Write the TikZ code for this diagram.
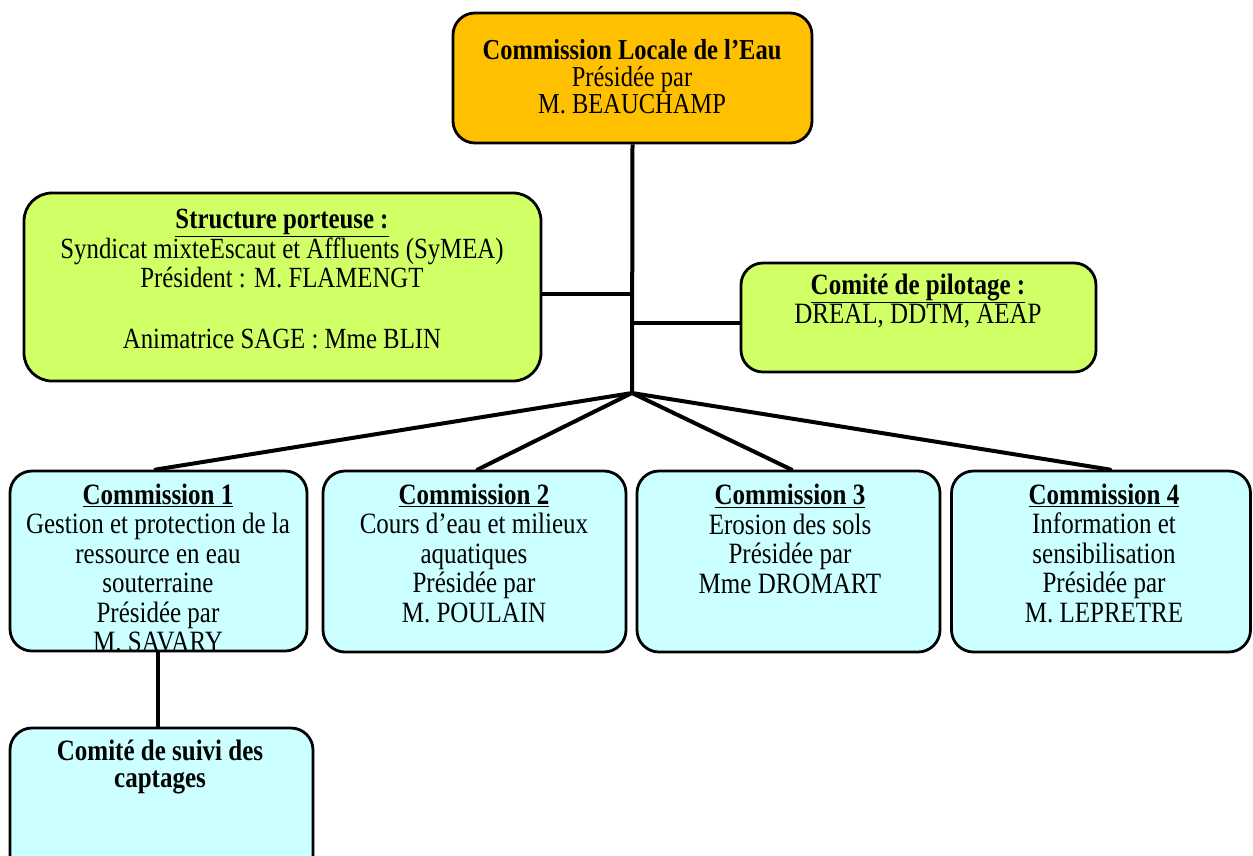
\documentclass[tikz,border=0pt]{standalone}
\usepackage{fontspec}
\usepackage{graphicx}
\setmainfont{Liberation Serif}
\newcommand\ys[1]{\scalebox{1}[1.18]{#1}}
\newcommand\ubf[1]{\underline{\textbf{#1}}}
\definecolor{cleorange}{HTML}{FFC000}
\definecolor{boxgreen}{HTML}{D0FF66}
\definecolor{boxblue}{HTML}{CCFFFF}
\tikzset{
  box/.style={draw=black, line width=2.8pt, rounded corners=22pt, inner sep=0pt},
  txt/.style={align=center, inner sep=0pt, text=black},
  link/.style={draw=black, line width=4pt},
}
\begin{document}
\begin{tikzpicture}[x=1pt, y=-1pt]
\useasboundingbox (0,0) rectangle (1253,855);
\clip (0,0) rectangle (1253,855);
% boxes
\node[box, fill=cleorange, minimum width=359pt, minimum height=130pt] (cle) at (632.5,78) {};
\node[box, fill=boxgreen, rounded corners=28pt, minimum width=517pt, minimum height=188pt] (struct) at (282.5,287) {};
\node[box, fill=boxgreen, minimum width=355pt, minimum height=109pt] (pilot) at (918.5,317.5) {};
\node[box, fill=boxblue, minimum width=297pt, minimum height=180pt] (c1) at (158.5,561) {};
\node[box, fill=boxblue, minimum width=303pt, minimum height=181pt] (c2) at (474.5,561.5) {};
\node[box, fill=boxblue, minimum width=303pt, minimum height=181pt] (c3) at (788.5,561.5) {};
\node[box, fill=boxblue, minimum width=299pt, minimum height=181pt] (c4) at (1101,561.5) {};
\node[box, fill=boxblue, minimum width=303pt, minimum height=160pt] (suivi) at (161.5,808) {};
% texts
\node[txt, font=\fontsize{24.5}{27}\selectfont] (tcle) at (632,77)
  {\ys{\textbf{Commission Locale de l’Eau}}\\ \ys{Présidée par}\\ \ys{M. BEAUCHAMP}};
\node[txt, font=\fontsize{24.8}{29.5}\selectfont] (tstruct) at (282,279)
  {\ys{\ubf{Structure porteuse :}}\\ \ys{Syndicat mixteEscaut et Affluents (SyMEA)}\\ \ys{Président : M. FLAMENGT}\\[31pt] \ys{Animatrice SAGE : Mme BLIN}};
\node[txt, font=\fontsize{25}{26}\selectfont] (tpilot) at (918,301)
  {\ys{\ubf{Comité de pilotage :}}\\ \ys{DREAL, DDTM, AEAP}};
\node[txt, font=\fontsize{25}{29.5}\selectfont] (tc1) at (158,568)
  {\ys{\ubf{Commission 1}}\\ \ys{Gestion et protection de la}\\ \ys{ressource en eau}\\ \ys{souterraine}\\ \ys{Présidée par}\\ \ys{M. SAVARY}};
\node[txt, font=\fontsize{25}{29.5}\selectfont] (tc2) at (474,553)
  {\ys{\ubf{Commission 2}}\\ \ys{Cours d’eau et milieux}\\ \ys{aquatiques}\\ \ys{Présidée par}\\ \ys{M. POULAIN}};
\node[txt, font=\fontsize{25}{29.5}\selectfont] (tc3) at (790,539)
  {\ys{\ubf{Commission 3}}\\ \ys{Erosion des sols}\\ \ys{Présidée par}\\ \ys{Mme DROMART}};
\node[txt, font=\fontsize{25}{29.5}\selectfont] (tc4) at (1104,553)
  {\ys{\ubf{Commission 4}}\\ \ys{Information et}\\ \ys{sensibilisation}\\ \ys{Présidée par}\\ \ys{M. LEPRETRE}};
\node[txt, font=\fontsize{25}{27.5}\selectfont] (tsuivi) at (160,767)
  {\ys{\textbf{Comité de suivi des}}\\ \ys{\textbf{captages}}};
% connectors
\coordinate (fan) at (632,393);
\coordinate (jl) at (632,294);
\coordinate (jr) at (632,323);
\draw[link] (cle.south) -- (fan);
\draw[link] (struct.east |- jl) -- (jl);
\draw[link] (jr) -- (pilot.west |- jr);
\draw[link, line cap=round] (fan) -- ([xshift=-3pt]c1.north);
\draw[link, line cap=round] (fan) -- ([xshift=3pt]c2.north);
\draw[link, line cap=round] (fan) -- ([xshift=3pt]c3.north);
\draw[link, line cap=round] (fan) -- ([xshift=9pt]c4.north);
\draw[link] ([xshift=-1pt]c1.south) -- ([xshift=-1pt]c1.south |- suivi.north);
\end{tikzpicture}
\end{document}
